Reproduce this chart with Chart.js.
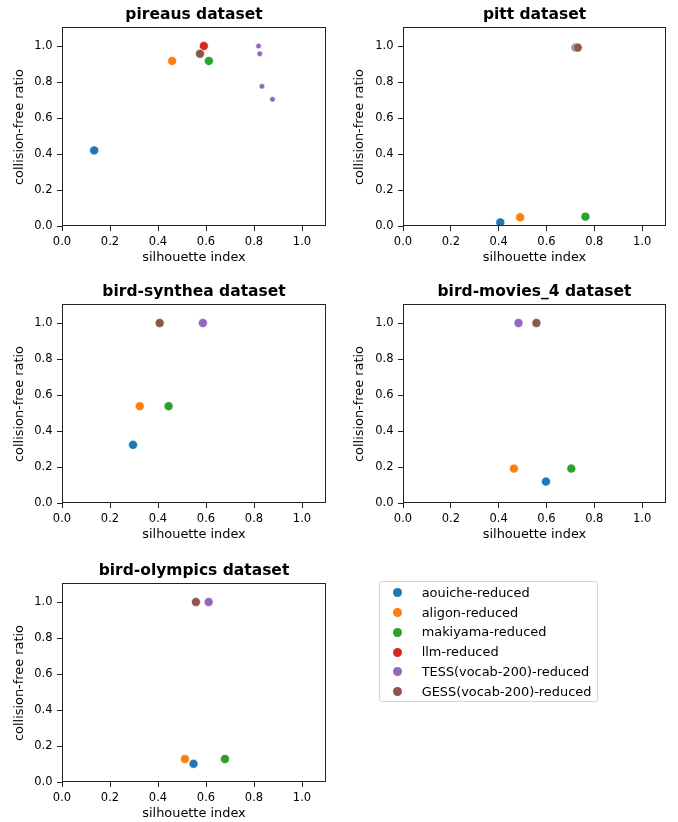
<!DOCTYPE html>
<html lang="en">
<head>
    <meta charset="UTF-8">
    <title>Silhouette vs collision-free ratio</title>
    <script src="https://cdn.jsdelivr.net/npm/chart.js"></script>
    <style>
        html, body { margin: 0; padding: 0; background: #fff; overflow: hidden; }
        #page { position: relative; width: 678px; height: 822px; overflow: hidden; }
        #page canvas { position: absolute; }
        .legend {
            position: absolute; left: 379px; top: 581px; width: 219px; height: 121px;
            box-sizing: border-box; border: 1px solid #d4d4d4; border-radius: 3px;
            font-family: 'DejaVu Sans', sans-serif; font-size: 12.9px; color: #000;
        }
        .legend .row { position: absolute; left: 0; height: 16px; line-height: 16px; white-space: nowrap; }
        .legend .dot { position: absolute; left: 12.5px; top: 3.5px; width: 9px; height: 9px; border-radius: 50%; }
        .legend .txt { position: absolute; left: 41.7px; top: 0; }
    </style>
</head>
<body>
<div id="page">
    <canvas id="c1" width="388" height="266" style="left:0px;top:0px"></canvas>
    <canvas id="c2" width="389" height="266" style="left:340px;top:0px"></canvas>
    <canvas id="c3" width="388" height="266" style="left:0px;top:277px"></canvas>
    <canvas id="c4" width="389" height="266" style="left:340px;top:277px"></canvas>
    <canvas id="c5" width="388" height="266" style="left:0px;top:556px"></canvas>
    <div class="legend" id="legend"></div>
</div>

<script>
    // methods and their colours (tab10)
    const methods = ['aouiche-reduced', 'aligon-reduced', 'makiyama-reduced', 'llm-reduced',
                     'TESS(vocab-200)-reduced', 'GESS(vocab-200)-reduced'];
    const colors = ['#1f77b4', '#ff7f0e', '#2ca02c', '#d62728', '#9467bd', '#8c564b'];

    const tickValues = [0, 0.2, 0.4, 0.6, 0.8, 1.0];

    // pireaus
    const pireausMethod = [0, 1, 2, 3, 5, 4, 4, 4, 4];
    const pireausSil = [0.134, 0.459, 0.612, 0.591, 0.575, 0.819, 0.824, 0.833, 0.877];
    const pireausCfr = [0.42, 0.917, 0.917, 1.0, 0.957, 1.0, 0.957, 0.776, 0.704];

    // pitt
    const pittMethod = [0, 1, 2, 4, 5];
    const pittSil = [0.407, 0.490, 0.763, 0.722, 0.731];
    const pittCfr = [0.020, 0.048, 0.052, 0.991, 0.991];

    // bird-synthea
    const syntheaMethod = [0, 1, 2, 4, 5];
    const syntheaSil = [0.296, 0.324, 0.444, 0.587, 0.407];
    const syntheaCfr = [0.323, 0.538, 0.538, 1.0, 1.0];

    // bird-movies_4
    const moviesMethod = [0, 1, 2, 4, 5];
    const moviesSil = [0.598, 0.464, 0.704, 0.483, 0.558];
    const moviesCfr = [0.119, 0.191, 0.191, 1.0, 1.0];

    // bird-olympics
    const olympicsMethod = [0, 1, 2, 4, 5];
    const olympicsSil = [0.548, 0.512, 0.679, 0.611, 0.558];
    const olympicsCfr = [0.101, 0.128, 0.128, 1.0, 1.0];

    Chart.defaults.font.family = "'DejaVu Sans', sans-serif";
    Chart.defaults.color = '#000';

    // draws the full box around the plot area
    const framePlugin = {
        id: 'frame',
        afterDraw(chart) {
            const a = chart.chartArea;
            const ctx = chart.ctx;
            ctx.save();
            ctx.strokeStyle = '#222';
            ctx.lineWidth = 1;
            const l = Math.round(a.left) + 0.5, t = Math.round(a.top) - 0.5;
            const r = Math.round(a.right) - 0.5, b = Math.round(a.bottom) - 0.5;
            ctx.strokeRect(l, t, r - l, b - t);
            ctx.restore();
        }
    };

    function axis(title, isX, yWidth) {
        return {
            type: 'linear',
            min: 0,
            max: 1.1,
            afterBuildTicks: s => { s.ticks = tickValues.map(v => ({ value: v })); },
            afterFit: s => { if (isX) s.height = 40; else s.width = yWidth; },
            border: { display: false },
            grid: { display: true, drawOnChartArea: false, drawTicks: true, tickLength: 5, color: '#222', tickWidth: 1 },
            ticks: { padding: 4.5, color: '#000', font: { size: 11.5 }, callback: v => v.toFixed(1), maxRotation: 0 },
            title: {
                display: true, text: title, color: '#000', font: { size: 12.9 },
                padding: isX ? { top: 0, bottom: 0.3 } : { top: 12.3, bottom: 0 }
            }
        };
    }

    function drawPanel(id, title, sil, cfr, method, yWidth, smallMethods) {
        const datasets = methods.map((m, k) => {
            const pts = [];
            method.forEach((mi, i) => { if (mi === k) pts.push({ x: sil[i], y: cfr[i] }); });
            const small = smallMethods && smallMethods.includes(k);
            return {
                label: m,
                data: pts,
                order: methods.length - k,
                backgroundColor: colors[k],
                borderColor: '#fff',
                pointBorderWidth: 0.6,
                pointRadius: small ? 2.8 : 4.5,
                pointHoverRadius: small ? 2.8 : 4.5
            };
        });
        new Chart(document.getElementById(id), {
            type: 'scatter',
            data: { datasets: datasets },
            options: {
                responsive: false,
                animation: false,
                devicePixelRatio: 1,
                layout: { padding: 0 },
                plugins: {
                    legend: { display: false },
                    tooltip: { enabled: false },
                    title: {
                        display: true, text: title, color: '#000',
                        font: { size: 15.5, weight: 'bold' },
                        padding: { top: 5.7, bottom: 3.7 }
                    }
                },
                scales: {
                    x: axis('silhouette index', true, yWidth),
                    y: axis('collision-free ratio', false, yWidth),
                    // empty right-hand spacer so the title centres over the plot
                    spacer: {
                        type: 'linear', position: 'right', display: true,
                        ticks: { display: false }, grid: { display: false },
                        border: { display: false }, title: { display: false },
                        afterFit: s => { s.width = yWidth; }
                    }
                }
            },
            plugins: [framePlugin]
        });
    }

    drawPanel('c1', 'pireaus dataset', pireausSil, pireausCfr, pireausMethod, 62, [4]);
    drawPanel('c2', 'pitt dataset', pittSil, pittCfr, pittMethod, 63);
    drawPanel('c3', 'bird-synthea dataset', syntheaSil, syntheaCfr, syntheaMethod, 62);
    drawPanel('c4', 'bird-movies_4 dataset', moviesSil, moviesCfr, moviesMethod, 63);
    drawPanel('c5', 'bird-olympics dataset', olympicsSil, olympicsCfr, olympicsMethod, 62);

    // legend box
    const legend = document.getElementById('legend');
    legend.innerHTML = methods.map((m, k) =>
        `<div class="row" style="top:${2.7 + k * 19.8}px"><span class="dot" style="background:${colors[k]}"></span><span class="txt">${m}</span></div>`
    ).join('');
</script>
</body>
</html>
